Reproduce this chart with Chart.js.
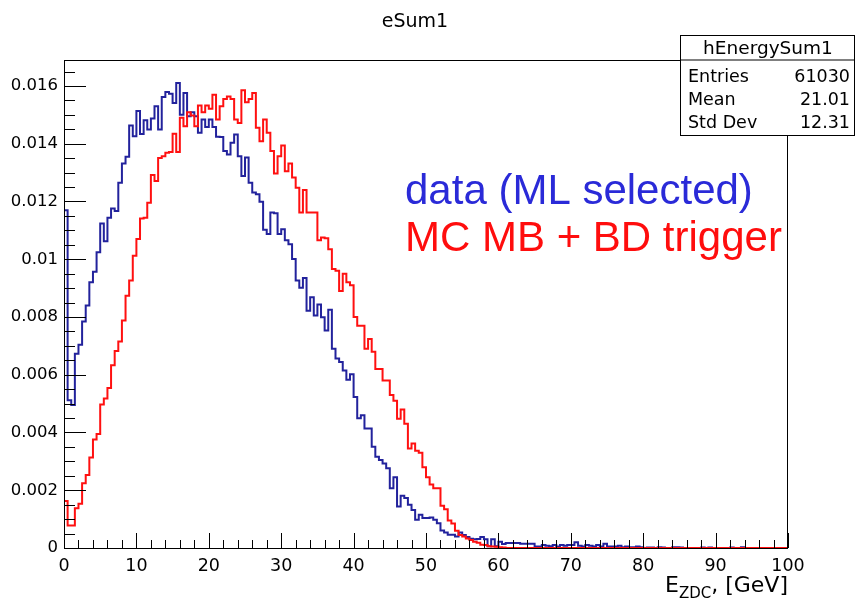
<!DOCTYPE html>
<html><head><meta charset="utf-8">
<script src="https://cdn.jsdelivr.net/npm/chart.js@4.4.1/dist/chart.umd.min.js"></script>
<style>html,body{margin:0;padding:0;background:#fff}</style>
</head><body>
<canvas id="c" width="856" height="602"></canvas>
<script>
// ---------- data ----------
const binWidth = 0.5;          // GeV per bin
const xMin = 0;
const xMax = 100;
const yMax = 0.0169;
const xTickLabels = [0, 10, 20, 30, 40, 50, 60, 70, 80, 90, 100];
const yTickLabels = [0, 0.002, 0.004, 0.006, 0.008, 0.01, 0.012, 0.014, 0.016];

// data (ML selected) – blue histogram, one value per 0.5 GeV bin starting at 0
const dataValues = [
  0.0117,0.00512,0.00495,0.00673,0.00704,0.00784,0.0084,0.0092,0.00957,0.01024,
  0.01124,0.01062,0.01144,0.01176,0.01167,0.01265,0.01332,0.01355,0.01463,0.01426,
  0.01513,0.01434,0.01481,0.01449,0.01487,0.0153,0.01449,0.01562,0.01579,0.01573,
  0.01541,0.0161,0.0150,0.01576,0.01495,0.01509,0.01495,0.01438,0.01484,0.01458,
  0.01484,0.01458,0.01424,0.01423,0.01375,0.01363,0.01403,0.01432,0.01357,0.01288,
  0.01352,0.01265,0.01231,0.01225,0.01199,0.01102,0.01087,0.01162,0.01159,0.01087,
  0.01104,0.01066,0.01052,0.01001,0.00926,0.00901,0.00935,0.00822,0.00868,0.00805,
  0.00843,0.00799,0.00753,0.00825,0.0069,0.00656,0.00644,0.00615,0.00583,0.00602,
  0.00523,0.00449,0.0046,0.00414,0.00414,0.00351,0.00316,0.00305,0.00293,0.00276,
  0.00207,0.00245,0.00144,0.00181,0.00173,0.0015,0.00132,0.00098,0.00115,0.00104,
  0.00104,0.00106,0.00098,0.00086,0.00061,0.00054,0.00046,0.00046,0.0004,0.00054,
  0.00045,0.00038,0.00032,0.0003,0.00031,0.00038,0.0003,0.00006,0.0003,0.00006,
  0.00022,0.00014,0.00017,0.00017,0.00017,0.00017,0.00015,0.00015,0.00015,0.00015,
  0.00005,0.00005,0.0001,0.00008,0.00006,0.0001,0.00005,0.0001,0.00008,0.0001,
  0.0001,0.0002,0.00008,0.00005,0.0001,0.00008,0.00005,0.0001,0.00005,0.00015,
  0.00005,0.00005,0.00005,0.00008,0.00003,0.00005,0.00003,0.00003,0.00005,0.00003,
  0,0.00002,0.00002,0,0.00003,0.00002,0,0,0.00003,0.00003,
  0.00002,0,0,0,0,0,0.00002,0,0.00002,0,
  0,0,0,0,0.00002,0,0,0.00003,0,0,
  0,0,0,0,0,0,0,0,0,0
];

// MC MB + BD trigger – red histogram
const mcValues = [
  0.00163,0.00078,0.00078,0.00138,0.00153,0.00224,0.00253,0.00313,0.00376,0.00395,
  0.00497,0.00518,0.00554,0.00633,0.00682,0.00715,0.00788,0.00874,0.00926,0.01012,
  0.0107,0.01141,0.01144,0.01196,0.01292,0.01271,0.01351,0.01357,0.01369,0.01371,
  0.01435,0.01371,0.0149,0.01461,0.01509,0.01498,0.01461,0.01532,0.01509,0.01532,
  0.01521,0.0157,0.01484,0.0153,0.01555,0.01564,0.01555,0.01484,0.01472,0.01585,
  0.01544,0.01555,0.01576,0.01455,0.01409,0.01484,0.01438,0.01375,0.01297,0.01357,
  0.01394,0.01305,0.01332,0.01283,0.01248,0.01162,0.0124,0.01162,0.01162,0.01162,
  0.01066,0.01075,0.01073,0.01035,0.00966,0.0096,0.0089,0.0095,0.0092,0.0091,
  0.0080,0.0077,0.0077,0.0069,0.00724,0.0068,0.0062,0.0062,0.0058,0.0058,
  0.0053,0.0051,0.00448,0.0048,0.0043,0.00345,0.00362,0.00337,0.0033,0.0028,
  0.00245,0.0022,0.00207,0.00207,0.00146,0.00134,0.00095,0.00085,0.0006,0.00045,
  0.0004,0.00033,0.00028,0.00022,0.00018,0.00011,0.0001,0.00006,0.00005,0.00004,
  0.00003,0.00002,0,0,0,0,0,0,0,0,
  0,0,0,0,0,0,0,0,0,0,
  0,0,0,0,0,0,0,0,0,0,
  0,0,0,0,0,0,0,0,0,0,
  0,0,0,0,0,0,0,0,0,0,
  0,0,0,0,0,0,0,0,0,0,
  0,0,0,0,0,0,0,0,0,0,
  0,0,0,0,0,0,0,0,0,0
];

const titleText = "eSum1";
const histName = "hEnergySum1";
const statLabels = ["Entries", "Mean", "Std Dev"];
const statValues = ["61030", "21.01", "12.31"];
const seriesLabels = ["data (ML selected)", "MC MB + BD trigger"];
const xAxisMain = "E";
const xAxisSub = "ZDC";
const xAxisRest = ", [GeV]";

// ---------- helpers ----------
function histPoints(vals) {
  const pts = [{x: xMin, y: 0}];
  vals.forEach((v, i) => pts.push({x: xMin + i * binWidth, y: v}));
  pts.push({x: xMin + vals.length * binWidth, y: vals[vals.length - 1]});
  return pts;
}
function fmt(v) { return String(Number(v.toFixed(4))); }

const FONT = '"DejaVu Sans", sans-serif';

const rootDecor = {
  id: 'rootDecor',
  afterDatasetsDraw(chart) {
    const {ctx, chartArea: a, scales: {x, y}} = chart;
    ctx.save();
    ctx.strokeStyle = '#000';
    ctx.lineWidth = 1;
    ctx.strokeRect(Math.round(a.left) + 0.5, Math.round(a.top) + 0.5,
                   Math.round(a.right - a.left) - 1, Math.round(a.bottom - a.top));
    // y ticks (inside frame)
    for (let k = 0; ; k++) {
      const v = k * 0.0005;
      if (v > yMax + 1e-9) break;
      const py = Math.round(y.getPixelForValue(v)) + 0.5;
      const len = (k % 4 === 0) ? 22 : 11;
      ctx.beginPath(); ctx.moveTo(a.left, py); ctx.lineTo(a.left + len, py); ctx.stroke();
    }
    // x ticks (inside frame)
    for (let k = 0; ; k++) {
      const v = xMin + k * 2;
      if (v > xMax + 1e-9) break;
      const px = Math.round(x.getPixelForValue(v)) + 0.5;
      const len = (k % 5 === 0) ? 15 : 8;
      ctx.beginPath(); ctx.moveTo(px, a.bottom); ctx.lineTo(px, a.bottom - len); ctx.stroke();
    }
    ctx.restore();
  },
  afterDraw(chart) {
    const {ctx, chartArea: a} = chart;
    ctx.save();
    // title
    ctx.fillStyle = '#000';
    ctx.font = '19px ' + FONT;
    ctx.textAlign = 'center';
    ctx.textBaseline = 'alphabetic';
    ctx.fillText(titleText, 415, 27);

    // stats box
    const bx = 680, by = 35, bw = 174, bh = 100, hdr = 59.5;
    ctx.fillStyle = '#fff';
    ctx.fillRect(bx, by, bw, bh);
    ctx.strokeStyle = '#000';
    ctx.lineWidth = 1;
    ctx.strokeRect(bx + 0.5, by + 0.5, bw, bh);
    ctx.beginPath(); ctx.moveTo(bx, hdr + 0.5); ctx.lineTo(bx + bw, hdr + 0.5); ctx.stroke();
    ctx.fillStyle = '#000';
    ctx.font = '18.5px ' + FONT;
    ctx.textAlign = 'center';
    ctx.fillText(histName, bx + bw / 2 + 1, 54);
    ctx.font = '17.5px ' + FONT;
    const rowY = [82, 105, 128];
    statLabels.forEach((lab, i) => {
      ctx.textAlign = 'left';
      ctx.fillText(lab, bx + 8, rowY[i]);
      ctx.textAlign = 'right';
      ctx.fillText(statValues[i], bx + bw - 4, rowY[i]);
    });

    // series annotations
    ctx.textAlign = 'left';
    ctx.font = '42px "Liberation Sans", Arial, sans-serif';
    ctx.fillStyle = '#2a2ad8';
    ctx.fillText(seriesLabels[0], 405, 204);
    ctx.fillStyle = '#ff0d0d';
    ctx.fillText(seriesLabels[1], 405, 251);

    // x axis title, right-aligned to frame
    ctx.fillStyle = '#000';
    const big = '22px ' + FONT, small = '15px ' + FONT;
    ctx.font = big; const w1 = ctx.measureText(xAxisMain).width;
    const w3 = ctx.measureText(xAxisRest).width;
    ctx.font = small; const w2 = ctx.measureText(xAxisSub).width;
    let sx = a.right - (w1 + w2 + w3);
    const base = 592;
    ctx.font = big; ctx.fillText(xAxisMain, sx, base); sx += w1;
    ctx.font = small; ctx.fillText(xAxisSub, sx, base + 6); sx += w2;
    ctx.font = big; ctx.fillText(xAxisRest, sx, base);
    ctx.restore();
  }
};

new Chart(document.getElementById('c'), {
  type: 'line',
  data: {
    datasets: [
      { label: seriesLabels[1], data: histPoints(mcValues), borderColor: '#ff1010',
        borderWidth: 2, pointRadius: 0, stepped: true, fill: false, order: 1 },
      { label: seriesLabels[0], data: histPoints(dataValues), borderColor: '#22229c',
        borderWidth: 2, pointRadius: 0, stepped: true, fill: false, order: 2 }
    ]
  },
  options: {
    responsive: false,
    animation: false,
    devicePixelRatio: 1,
    layout: { padding: { top: 60, right: 68, left: 0, bottom: 0 } },
    plugins: { legend: { display: false }, title: { display: false }, tooltip: { enabled: false } },
    scales: {
      x: {
        type: 'linear', min: xMin, max: xMax,
        grid: { display: false, drawTicks: false },
        border: { display: false },
        afterFit(s) { s.height = 54; },
        afterBuildTicks(s) { s.ticks = xTickLabels.map(v => ({ value: v })); },
        ticks: { color: '#000', font: { family: FONT, size: 17.5 }, padding: 8,
                 maxRotation: 0, autoSkip: false, callback: v => fmt(v) }
      },
      y: {
        type: 'linear', min: 0, max: yMax,
        grid: { display: false, drawTicks: false },
        border: { display: false },
        afterFit(s) { s.width = 64; },
        afterBuildTicks(s) { s.ticks = yTickLabels.map(v => ({ value: v })); },
        ticks: { color: '#000', font: { family: FONT, size: 16.5 }, padding: 6,
                 callback: v => fmt(v) }
      }
    }
  },
  plugins: [rootDecor]
});
</script>
</body></html>
